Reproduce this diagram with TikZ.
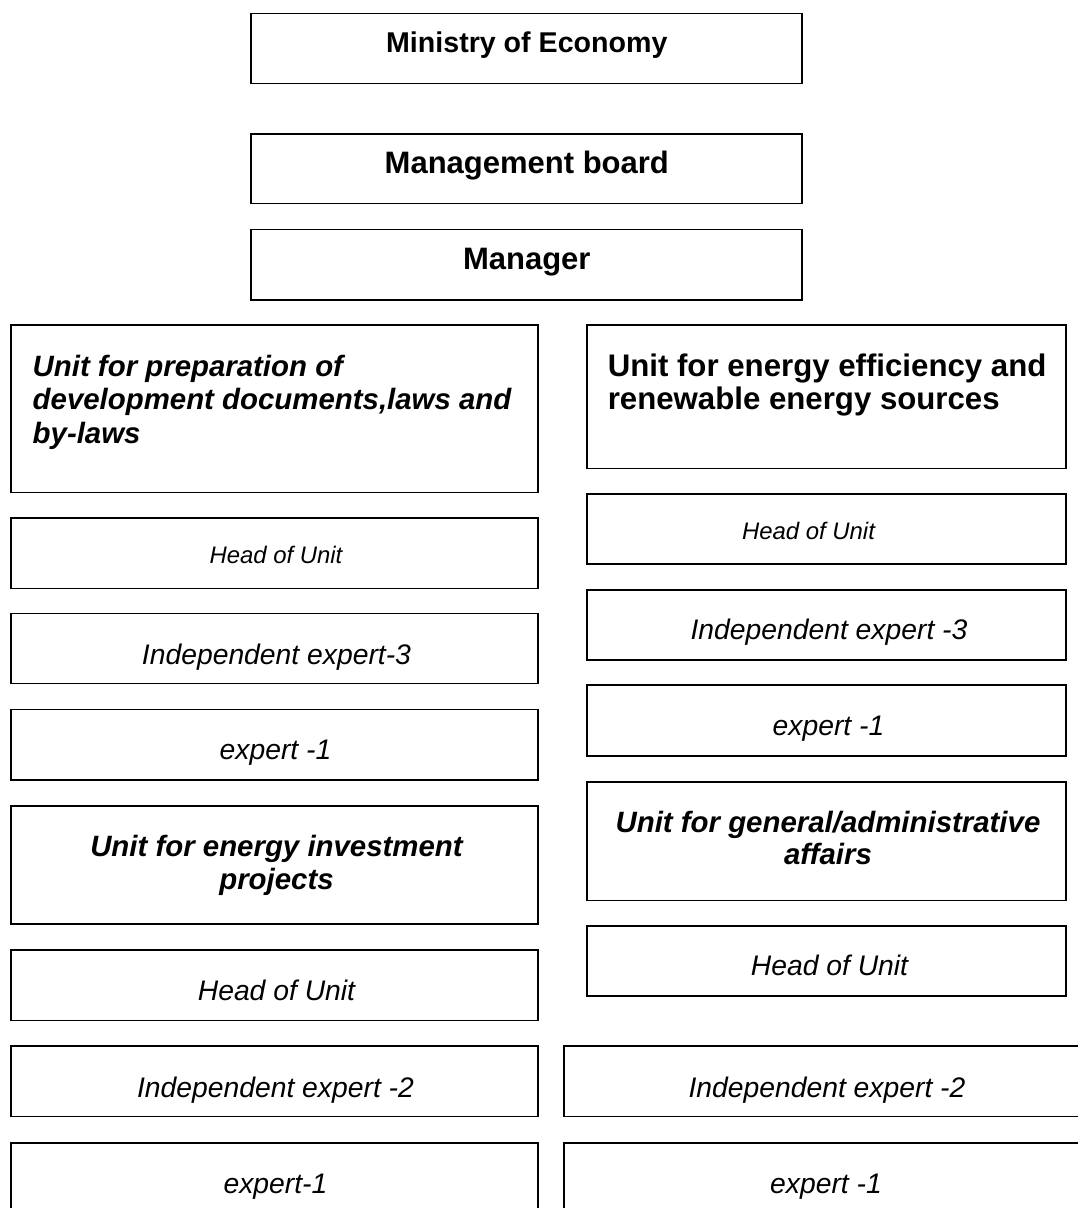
\documentclass[tikz,border=0pt]{standalone}
\usepackage{fontspec}
\setmainfont{Liberation Sans}
\newcommand\fsBig{\fontsize{31}{36}\selectfont}
\newcommand\fsMin{\fontsize{28.6}{34}\selectfont}
\newcommand\fsUnit{\fontsize{29.4}{34}\selectfont}
\newcommand\fsEE{\fontsize{31.2}{36}\selectfont}
\newcommand\fsSmall{\fontsize{23.9}{28}\selectfont}
\newcommand\fsReg{\fontsize{28.3}{34}\selectfont}
\tikzset{
  box/.style={draw=black, line width=1.9pt, rectangle, inner sep=0pt, outer sep=0pt, anchor=north west},
  lbl/.style={anchor=base, inner sep=0pt},
  lbll/.style={anchor=base west, inner sep=0pt},
}
\begin{document}
\begin{tikzpicture}[x=1pt,y=-1pt]
\useasboundingbox (0,0) rectangle (1078,1208);
\clip (0,0) rectangle (1078,1208);
\fill[white] (0,0) rectangle (1078,1208);
% top boxes
\node[box, minimum width=551pt, minimum height=70pt] (min) at (251.2,13.5) {};
\node[box, minimum width=551pt, minimum height=69.5pt] (mb) at (251.2,134) {};
\node[box, minimum width=551pt, minimum height=70.5pt] (mgr) at (251.2,229.5) {};
\node[lbl, font=\fsMin\bfseries] (mint) at (526.8,52) {Ministry of Economy};
\node[lbl, font=\fsBig\bfseries] (mbt) at (526.8,173.5) {Management board};
\node[lbl, font=\fsBig\bfseries] (mgrt) at (526.8,269.5) {Manager};
% left column
\node[box, minimum width=527pt, minimum height=167.5pt] (prep) at (11.2,325) {};
\node[lbll, font=\fsUnit\bfseries\itshape] (prep1) at (32.5,376.3) {Unit for preparation of};
\node[lbll, font=\fsUnit\bfseries\itshape] (prep2) at (32.5,409.7) {development documents,laws and};
\node[lbll, font=\fsUnit\bfseries\itshape] (prep3) at (32.5,443.1) {by-laws};
\node[box, minimum width=527pt, minimum height=70.5pt] (huL) at (11.2,518) {};
\node[lbl, font=\fsSmall\itshape] (huLt) at (276,563.5) {Head of Unit};
\node[box, minimum width=527pt, minimum height=70pt] (ie3L) at (11.2,613.5) {};
\node[lbl, font=\fsReg\itshape] (ie3Lt) at (276.5,664.3) {Independent expert-3};
\node[box, minimum width=527pt, minimum height=70.8pt] (e1L) at (11.2,709.5) {};
\node[lbl, font=\fsReg\itshape] (e1Lt) at (275.5,759.5) {expert -1};
\node[box, minimum width=527pt, minimum height=118pt] (inv) at (11.2,806) {};
\node[lbl, font=\fsUnit\bfseries\itshape] (inv1) at (276.5,856.8) {Unit for energy investment};
\node[lbl, font=\fsUnit\bfseries\itshape] (inv2) at (276.5,889.8) {projects};
\node[box, minimum width=527pt, minimum height=70.5pt] (hu2L) at (11.2,950) {};
\node[lbl, font=\fsReg\itshape] (hu2Lt) at (276.5,1000.3) {Head of Unit};
\node[box, minimum width=527pt, minimum height=70.5pt] (ie2L) at (11.2,1046) {};
\node[lbl, font=\fsReg\itshape] (ie2Lt) at (275.5,1097.5) {Independent expert -2};
\node[box, minimum width=527pt, minimum height=80pt] (e1bL) at (11.2,1143) {};
\node[lbl, font=\fsReg\itshape] (e1bLt) at (275.5,1193.5) {expert-1};
% right column
\node[box, minimum width=479pt, minimum height=143.5pt] (ee) at (587.3,325) {};
\node[lbll, font=\fsEE\bfseries] (ee1) at (607.6,376.3) {Unit for energy efficiency and};
\node[lbll, font=\fsEE\bfseries] (ee2) at (607.6,409.6) {renewable energy sources};
\node[box, minimum width=479pt, minimum height=70.5pt] (huR) at (587.3,493.7) {};
\node[lbl, font=\fsSmall\itshape] (huRt) at (808.5,539) {Head of Unit};
\node[box, minimum width=479pt, minimum height=70.5pt] (ie3R) at (587.3,589.7) {};
\node[lbl, font=\fsReg\itshape] (ie3Rt) at (829,639.5) {Independent expert -3};
\node[box, minimum width=479pt, minimum height=71pt] (e1R) at (587.3,685.3) {};
\node[lbl, font=\fsReg\itshape] (e1Rt) at (828.5,735.3) {expert -1};
\node[box, minimum width=479pt, minimum height=118.5pt] (gen) at (587.3,782) {};
\node[lbl, font=\fsUnit\bfseries\itshape] (gen1) at (828,832) {Unit for general/administrative};
\node[lbl, font=\fsUnit\bfseries\itshape] (gen2) at (828,864.6) {affairs};
\node[box, minimum width=479pt, minimum height=70.3pt] (hu2R) at (587.3,926) {};
\node[lbl, font=\fsReg\itshape] (hu2Rt) at (829.5,975.3) {Head of Unit};
\node[box, minimum width=520pt, minimum height=70.5pt] (ie2R) at (564.2,1046) {};
\node[lbl, font=\fsReg\itshape] (ie2Rt) at (827,1097.5) {Independent expert -2};
\node[box, minimum width=520pt, minimum height=80pt] (e1bR) at (564.2,1143) {};
\node[lbl, font=\fsReg\itshape] (e1bRt) at (826,1193.5) {expert -1};
\end{tikzpicture}
\end{document}
